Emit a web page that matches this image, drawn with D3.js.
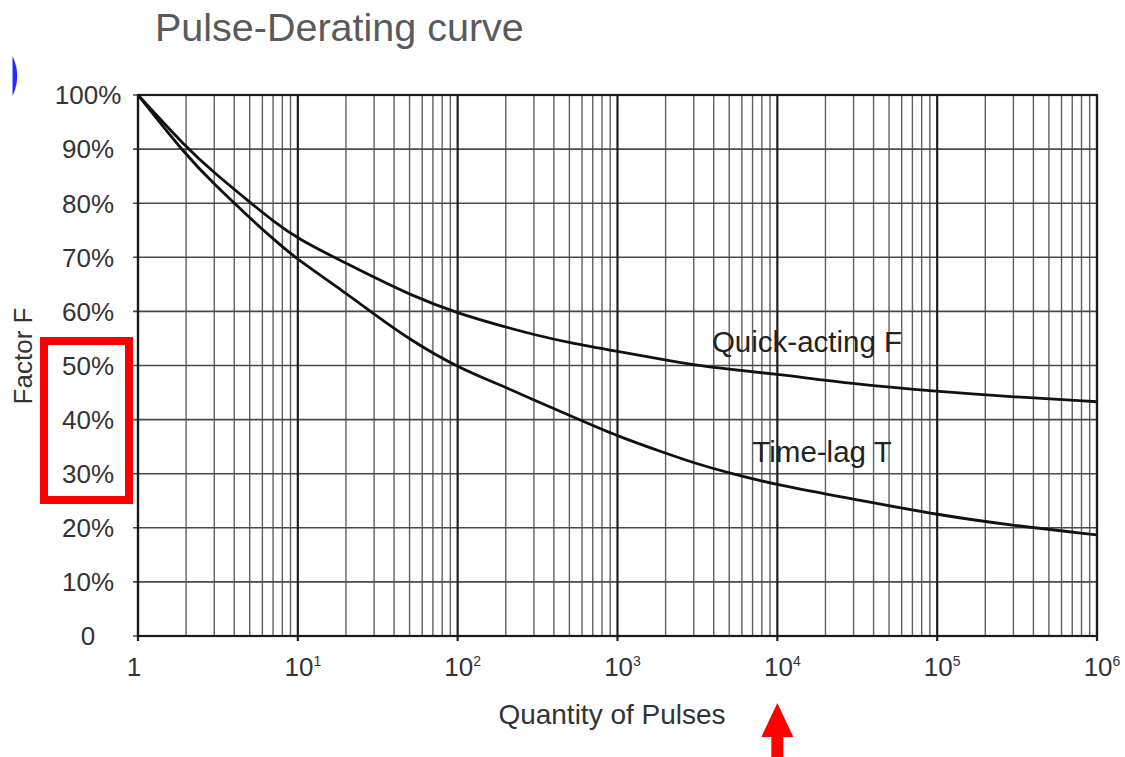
<!DOCTYPE html>
<html>
<head>
<meta charset="utf-8">
<script src="https://cdn.jsdelivr.net/npm/d3@7"></script>
<style>
  html, body { margin: 0; padding: 0; background: #fff; }
  text { font-family: "Liberation Sans", Arial, sans-serif; }
</style>
</head>
<body>
<script>
// Curve data (factor in %)
const pulses = [1, 2, 3, 5, 7, 10, 20, 30, 50, 100, 200, 300, 500, 1e3, 2e3, 3e3, 5e3, 1e4, 3e4, 1e5, 3e5, 1e6];
const quickActing = [100, 90.3, 85.6, 80.2, 76.7, 73.4, 68.9, 66.3, 63.1, 59.6, 57.1, 55.7, 54.2, 52.6, 51.0, 50.1, 49.3, 48.4, 46.6, 45.2, 44.2, 43.3];
const timeLag = [100, 88.8, 83.5, 77.3, 73.4, 69.5, 63.4, 59.5, 54.8, 49.6, 46.0, 43.6, 40.8, 36.9, 33.8, 32.0, 30.1, 27.9, 25.3, 22.4, 20.4, 18.7];

const decades = [1, 1e1, 1e2, 1e3, 1e4, 1e5, 1e6];
const decadeExp = ["", "1", "2", "3", "4", "5", "6"];
const yTicks = [0, 10, 20, 30, 40, 50, 60, 70, 80, 90, 100];
const yTickLabels = ["0", "10%", "20%", "30%", "40%", "50%", "60%", "70%", "80%", "90%", "100%"];

const W = 1125, H = 757;
const plotLeft = 138, plotRight = 1097, plotTop = 95, plotBottom = 636;

const svg = d3.select('body').append('svg')
    .attr('width', W)
    .attr('height', H);

const x = d3.scaleLog().domain([1, 1e6]).range([plotLeft, plotRight]);
const y = d3.scaleLinear().domain([0, 100]).range([plotBottom, plotTop]);

// title
svg.append('text')
    .attr('x', 155).attr('y', 41)
    .attr('font-size', 39.5)
    .attr('fill', '#5a5a5a')
    .text('Pulse-Derating curve');

// blue mark top left
svg.append('path')
    .attr('d', 'M12.5,56 Q22,76 12.5,96 Z')
    .attr('fill', '#2b2bff');

// minor vertical grid
const minors = [];
for (let d = 0; d < 6; d++) {
    for (let k = 2; k <= 9; k++) minors.push(k * Math.pow(10, d));
}
svg.append('g').selectAll('line')
    .data(minors)
    .join('line')
    .attr('x1', d => x(d)).attr('x2', d => x(d))
    .attr('y1', plotTop).attr('y2', plotBottom)
    .attr('stroke', '#606060')
    .attr('stroke-width', 1.4);

// horizontal grid
svg.append('g').selectAll('line')
    .data(yTicks)
    .join('line')
    .attr('x1', plotLeft - 5).attr('x2', plotRight)
    .attr('y1', d => y(d)).attr('y2', d => y(d))
    .attr('stroke', '#4a4a4a')
    .attr('stroke-width', 1.6);

// decade lines
svg.append('g').selectAll('line')
    .data(decades)
    .join('line')
    .attr('x1', d => x(d)).attr('x2', d => x(d))
    .attr('y1', plotTop).attr('y2', plotBottom + 5)
    .attr('stroke', '#1e1e1e')
    .attr('stroke-width', 2.2);

// frame
svg.append('rect')
    .attr('x', plotLeft).attr('y', plotTop)
    .attr('width', plotRight - plotLeft).attr('height', plotBottom - plotTop)
    .attr('fill', 'none')
    .attr('stroke', '#1a1a1a')
    .attr('stroke-width', 2.2);

// y tick labels
svg.append('g').selectAll('text')
    .data(yTicks)
    .join('text')
    .attr('x', 88)
    .attr('y', d => y(d))
    .attr('dy', '0.36em')
    .attr('text-anchor', 'middle')
    .attr('font-size', 26)
    .attr('fill', '#333')
    .text((d, i) => yTickLabels[i]);

// x tick labels
const xl = svg.append('g').selectAll('text')
    .data(decades)
    .join('text')
    .attr('x', (d, i) => i === 0 ? x(d) - 4 : x(d) + 5)
    .attr('y', 676)
    .attr('text-anchor', 'middle')
    .attr('font-size', 26)
    .attr('fill', '#333');
xl.append('tspan').text((d, i) => i === 0 ? '1' : '10');
xl.filter((d, i) => i > 0).append('tspan')
    .attr('font-size', 14)
    .attr('dy', -10)
    .text((d, i) => decadeExp[i + 1]);

// axis titles
svg.append('text')
    .attr('x', 612).attr('y', 724)
    .attr('text-anchor', 'middle')
    .attr('font-size', 28)
    .attr('fill', '#333')
    .text('Quantity of Pulses');

svg.append('text')
    .attr('transform', 'translate(32,356) rotate(-90)')
    .attr('text-anchor', 'middle')
    .attr('font-size', 26)
    .attr('fill', '#333')
    .text('Factor F');

// curves
const line = d3.line()
    .x((d, i) => x(pulses[i]))
    .y(d => y(d))
    .curve(d3.curveBasis);

[quickActing, timeLag].forEach(s => {
    svg.append('path')
        .datum(s)
        .attr('d', line)
        .attr('fill', 'none')
        .attr('stroke', '#111')
        .attr('stroke-width', 2.8);
});

// curve labels
svg.append('text')
    .attr('x', 807).attr('y', 352)
    .attr('text-anchor', 'middle')
    .attr('font-size', 29.5)
    .attr('fill', '#222')
    .text('Quick-acting F');

svg.append('text')
    .attr('x', 822).attr('y', 462)
    .attr('text-anchor', 'middle')
    .attr('font-size', 29.5)
    .attr('fill', '#222')
    .text('Time-lag T');

// red highlight box
svg.append('rect')
    .attr('x', 44).attr('y', 341)
    .attr('width', 85).attr('height', 159)
    .attr('fill', 'none')
    .attr('stroke', '#ff0000')
    .attr('stroke-width', 8);

// red arrow under 10^4
const ax = x(1e4);
svg.append('path')
    .attr('d', `M${ax},703 L${ax + 16},737 L${ax + 6},737 L${ax + 6},757 L${ax - 6},757 L${ax - 6},737 L${ax - 16},737 Z`)
    .attr('fill', '#ff0000');
</script>
</body>
</html>
